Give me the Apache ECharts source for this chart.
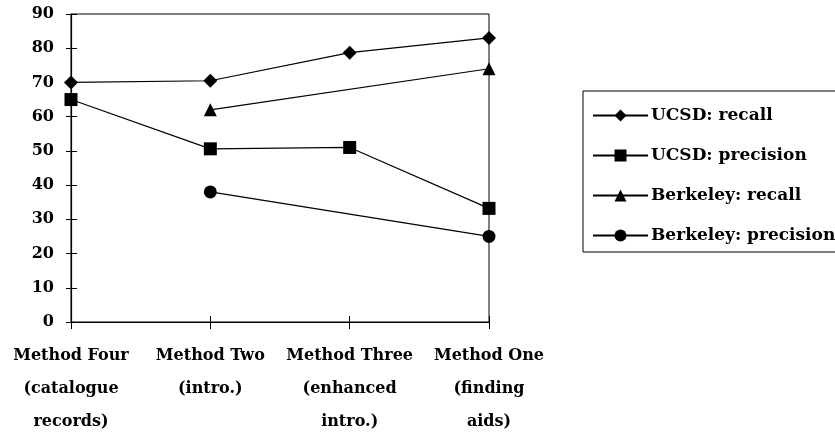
<!DOCTYPE html>
<html>
<head>
<meta charset="utf-8">
<script src="https://cdn.jsdelivr.net/npm/echarts@6/dist/echarts.min.js"></script>
<style>
    html, body {margin: 0; padding: 0; background: #fff;}
    #chart {width: 835px; height: 438px;}
</style>
</head>
<body>
<div id="chart"></div>
<script>
let methods = [
    'Method Four\n(catalogue\nrecords)',
    'Method Two\n(intro.)',
    'Method Three\n(enhanced\nintro.)',
    'Method One\n(finding\naids)'
]
let ucsdRecall = [70, 70.5, 78.7, 83]
let ucsdPrecision = [65, 50.6, 51, 33.2]
let berkeleyRecall = [null, 62, null, 74]
let berkeleyPrecision = [null, 38, null, 25]

let font = 'DejaVu Serif'
let myChart = echarts.init(document.getElementById('chart'))

let lineSeries = function (name, data, symbol, size) {
    return {
        name: name,
        type: 'line',
        data: data,
        symbol: symbol,
        symbolSize: size,
        connectNulls: true,
        lineStyle: {color: '#000', width: 1.2},
        itemStyle: {color: '#000'}
    }
}

let option = {
    animation: false,
    grid: {
        left: 71, right: 346, top: 14, bottom: 115,
        show: true, borderColor: '#000', borderWidth: 1
    },
    legend: {
        orient: 'vertical',
        left: 583, top: 91,
        padding: [16, 60, 8, 9],
        itemWidth: 55, itemHeight: 15, itemGap: 23,
        borderColor: '#000', borderWidth: 1,
        selectedMode: false,
        textStyle: {fontFamily: font, fontWeight: 'bold', fontSize: 17, color: '#000', padding: [0, 0, 0, -2]},
        data: ['UCSD: recall', 'UCSD: precision', 'Berkeley: recall', 'Berkeley: precision']
    },
    xAxis: [
        {
            type: 'category', data: methods, boundaryGap: false, position: 'bottom',
            axisLine: {lineStyle: {color: '#000', width: 1.2}},
            axisTick: {interval: 0, length: 7, lineStyle: {color: '#000'}},
            axisLabel: {
                interval: 0, margin: 17, color: '#000',
                fontFamily: font, fontWeight: 'bold', fontSize: 16, lineHeight: 33
            }
        },
        {
            type: 'category', data: methods, boundaryGap: false, position: 'bottom',
            axisLine: {show: false},
            axisTick: {interval: 0, inside: true, length: 6, lineStyle: {color: '#000'}},
            axisLabel: {show: false}
        }
    ],
    yAxis: [
        {
            type: 'value', min: 0, max: 90, interval: 10,
            axisLine: {show: true, lineStyle: {color: '#000', width: 1.2}},
            axisTick: {show: true, length: 5, lineStyle: {color: '#000'}},
            splitLine: {show: false},
            axisLabel: {margin: 17, color: '#000', fontFamily: font, fontWeight: 'bold', fontSize: 16}
        },
        {
            type: 'value', min: 0, max: 90, interval: 10, position: 'left',
            axisLine: {show: false},
            axisTick: {show: true, inside: true, length: 6, lineStyle: {color: '#000'}},
            splitLine: {show: false},
            axisLabel: {show: false}
        }
    ],
    series: [
        lineSeries('UCSD: recall', ucsdRecall, 'diamond', 14),
        lineSeries('UCSD: precision', ucsdPrecision, 'rect', 13),
        lineSeries('Berkeley: recall', berkeleyRecall, 'triangle', 13),
        lineSeries('Berkeley: precision', berkeleyPrecision, 'circle', 13)
    ]
}
myChart.setOption(option)
</script>
</body>
</html>
